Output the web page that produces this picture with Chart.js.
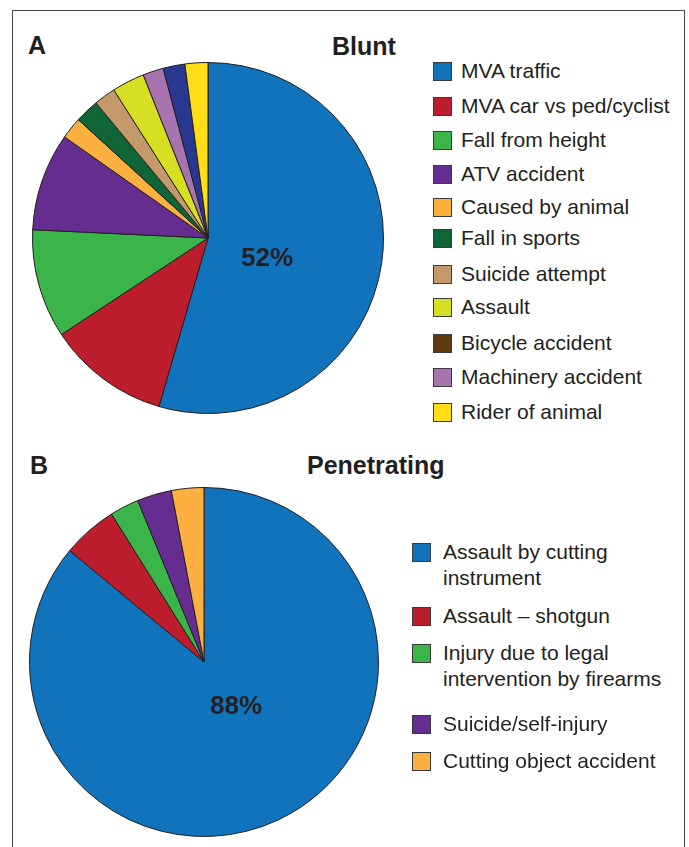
<!DOCTYPE html>
<html>
<head>
<meta charset="utf-8">
<script src="https://cdn.jsdelivr.net/npm/chart.js@4/dist/chart.umd.min.js"></script>
<style>
  html, body { margin: 0; padding: 0; background: #fff; }
  body { width: 689px; height: 847px; position: relative; overflow: hidden;
         font-family: "Liberation Sans", Arial, Helvetica, sans-serif; color: #231f20; }
  .frame { position: absolute; left: 12px; top: 10px; width: 671px; height: 900px;
           border: 1.5px solid #4a4a4a; }
  .abs { position: absolute; white-space: nowrap; }
  .title { font-weight: bold; font-size: 25px; line-height: 25px; }
  .pct { font-weight: bold; font-size: 26px; line-height: 26px; transform: translateX(-50%); }
  .box { position: absolute; width: 17px; height: 17px; border: 1px solid #3a3a3a; }
  .lbl { position: absolute; font-size: 21px; line-height: 26px; white-space: nowrap; }
  .wrap { position: absolute; }
</style>
</head>
<body>
<div class="frame"></div>

<div class="abs title" style="left:28px; top:33px;">A</div>
<div class="abs title" style="left:332px; top:34px;">Blunt</div>
<div class="abs title" style="left:30px; top:453px;">B</div>
<div class="abs title" style="left:307px; top:453px;">Penetrating</div>

<div class="wrap" style="left:32px; top:62px; width:352px; height:352px;">
  <canvas id="bluntChart" width="352" height="352"></canvas>
</div>
<div class="wrap" style="left:29px; top:487px; width:350px; height:350px;">
  <canvas id="penChart" width="350" height="350"></canvas>
</div>

<div class="abs pct" id="bluntPct" style="left:267px; top:244px;"></div>
<div class="abs pct" id="penPct" style="left:236px; top:692px;"></div>

<div id="legendA"></div>
<div id="legendB"></div>

<script>
// Blunt injury mechanisms (share of cases)
var bluntLabels = ["MVA traffic", "MVA car vs ped/cyclist", "Fall from height", "ATV accident",
  "Caused by animal", "Fall in sports", "Suicide attempt", "Assault", "Bicycle accident",
  "Machinery accident", "Rider of animal"]
var bluntValues = [54.4, 11.2, 10.0, 9.0, 2.0, 2.2, 2.0, 3.0, 1.9, 2.0, 2.1]
// colours as drawn in the pie
var bluntSliceColors = ["#1173bb", "#bc1e2d", "#3bb54a", "#652d90", "#fbb040", "#0f6536",
  "#c49a6c", "#d7df23", "#a874b0", "#283891", "#ffde17"]
// colours as drawn in the legend
var bluntLegendColors = ["#1173bb", "#bc1e2d", "#3bb54a", "#652d90", "#fbb040", "#0f6536",
  "#c49a6c", "#d7df23", "#603913", "#a874b0", "#ffde17"]
var bluntPctLabel = "52%"

// Penetrating injury mechanisms
var penLabels = [["Assault by cutting", "instrument"], ["Assault \u2013 shotgun"],
  ["Injury due to legal", "intervention by firearms"], ["Suicide/self-injury"], ["Cutting object accident"]]
var penValues = [86.1, 5.1, 2.7, 3.2, 3.0]
var penColors = ["#1173bb", "#bc1e2d", "#3bb54a", "#652d90", "#fbb040"]
var penPctLabel = "88%"

// legend row centres (layout only)
var legendARows = [70.5, 105.5, 140, 173.8, 206.7, 237.8, 273.7, 307, 343, 377, 411.7]
var legendBRows = [552, 616, 652.5, 724, 760.7]

function makePie(id, values, colors){
  var ctx = document.getElementById(id).getContext('2d')
  return new Chart(ctx, {
    type: 'pie',
    data: {
      labels: values.map(function(v, i){ return 'slice ' + i }),
      datasets: [{
        data: values,
        backgroundColor: colors,
        borderColor: '#231f20',
        borderWidth: 1
      }]
    },
    options: {
      responsive: false,
      maintainAspectRatio: false,
      animation: false,
      events: [],
      layout: { padding: 0 },
      plugins: {
        legend: { display: false },
        tooltip: { enabled: false }
      }
    }
  })
}

function makeLegend(holderId, labels, colors, rows, boxLeft, textLeft){
  var holder = document.getElementById(holderId)
  for (var i = 0; i < labels.length; i++) {
    var lines = Array.isArray(labels[i]) ? labels[i] : [labels[i]]
    var box = document.createElement('div')
    box.className = 'box'
    box.style.left = boxLeft + 'px'
    box.style.top = (rows[i] - 9) + 'px'
    box.style.background = colors[i]
    holder.appendChild(box)
    for (var j = 0; j < lines.length; j++) {
      var t = document.createElement('div')
      t.className = 'lbl'
      t.style.left = textLeft + 'px'
      t.style.top = (rows[i] - 13 + j * 26) + 'px'
      t.textContent = lines[j]
      holder.appendChild(t)
    }
  }
}

makePie('bluntChart', bluntValues, bluntSliceColors)
makePie('penChart', penValues, penColors)
document.getElementById('bluntPct').textContent = bluntPctLabel
document.getElementById('penPct').textContent = penPctLabel
makeLegend('legendA', bluntLabels, bluntLegendColors, legendARows, 433, 461)
makeLegend('legendB', penLabels, penColors, legendBRows, 412, 443)
</script>
</body>
</html>
